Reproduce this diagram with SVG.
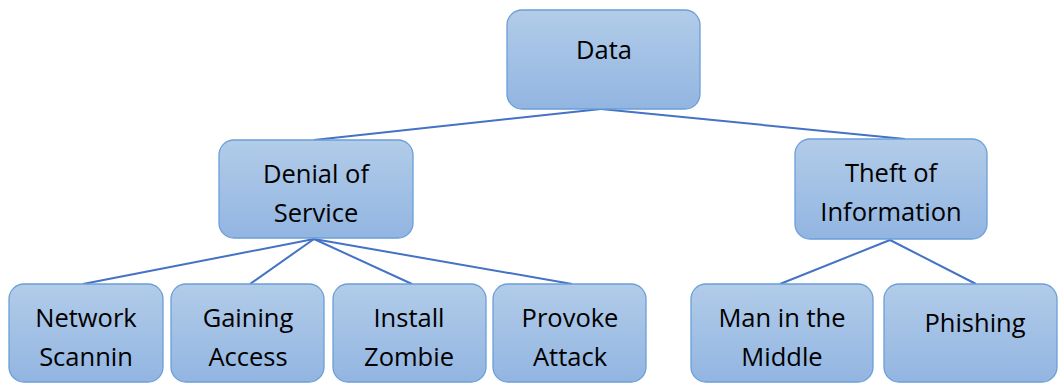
<svg xmlns="http://www.w3.org/2000/svg" width="1058" height="383" viewBox="0 0 1058 383">
<defs>
<linearGradient id="g" x1="0" y1="0" x2="0" y2="1">
<stop offset="0" stop-color="#b2cce9"/>
<stop offset="1" stop-color="#92b5e1"/>
</linearGradient>
<style>
.box{fill:url(#g);stroke:#6a9fd8;stroke-width:1.3}
.t{font-family:"Open Sans","Liberation Sans",sans-serif;font-size:25.5px;fill:#000;text-anchor:middle}
.c{stroke:#4472c4;stroke-width:2;fill:none}
</style>
</defs>
<rect width="1058" height="383" fill="#fff"/>
<g id="connectors">
<line class="c" x1="601" y1="109" x2="314" y2="140"/>
<line class="c" x1="601" y1="109" x2="905" y2="139"/>
<line class="c" x1="314" y1="239" x2="83" y2="284"/>
<line class="c" x1="314" y1="239" x2="250" y2="284"/>
<line class="c" x1="314" y1="239" x2="412" y2="284"/>
<line class="c" x1="314" y1="239" x2="572" y2="284"/>
<line class="c" x1="890" y1="240" x2="780" y2="284"/>
<line class="c" x1="890" y1="240" x2="976" y2="284"/>
</g>
<g id="data">
<rect class="box" x="507" y="10" width="193" height="99" rx="15"/>
<text class="t" x="604" y="59">Data</text>
</g>
<g id="dos">
<rect class="box" x="219" y="140" width="194" height="98" rx="15"/>
<text class="t" x="316" y="183">Denial of</text>
<text class="t" x="316" y="222">Service</text>
</g>
<g id="theft">
<rect class="box" x="795" y="139" width="192" height="100" rx="15"/>
<text class="t" x="891" y="182">Theft of</text>
<text class="t" x="891" y="221">Information</text>
</g>
<g id="network">
<rect class="box" x="9" y="284" width="154" height="98" rx="15"/>
<text class="t" x="86" y="327">Network</text>
<text class="t" x="86" y="366">Scannin</text>
</g>
<g id="gaining">
<rect class="box" x="171" y="284" width="153" height="98" rx="15"/>
<text class="t" x="248" y="327">Gaining</text>
<text class="t" x="248" y="366">Access</text>
</g>
<g id="install">
<rect class="box" x="333" y="284" width="153" height="98" rx="15"/>
<text class="t" x="409" y="327">Install</text>
<text class="t" x="409" y="366">Zombie</text>
</g>
<g id="provoke">
<rect class="box" x="493" y="284" width="153" height="98" rx="15"/>
<text class="t" x="570" y="327">Provoke</text>
<text class="t" x="570" y="366">Attack</text>
</g>
<g id="mitm">
<rect class="box" x="691" y="284" width="182" height="98" rx="15"/>
<text class="t" x="782" y="327">Man in the</text>
<text class="t" x="782" y="366">Middle</text>
</g>
<g id="phishing">
<rect class="box" x="884" y="284" width="173" height="98" rx="15"/>
<text class="t" x="975" y="332">Phishing</text>
</g>
</svg>
